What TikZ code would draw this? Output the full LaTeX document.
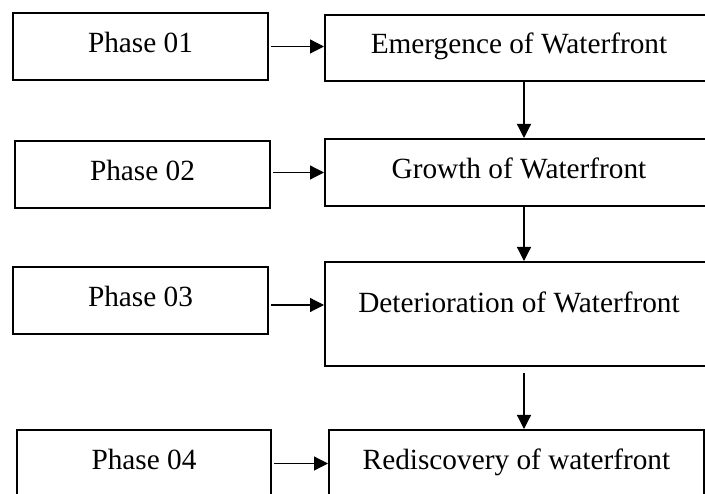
\documentclass[tikz,border=0pt]{standalone}
\usepackage{fontspec}
\setmainfont{Liberation Serif}
\usetikzlibrary{arrows.meta}
\begin{document}
\begin{tikzpicture}[x=1pt,y=-1pt,
  box/.style={draw=black,line width=2pt,rectangle,inner sep=0pt,anchor=north west,
    font=\fontsize{29.3}{34}\selectfont,text height=20pt,text depth=8pt},
  conn/.style={line width=1.2pt,-{Triangle[length=14pt,width=14pt]}}]
\useasboundingbox (0,0) rectangle (705,494);
\clip (0,0) rectangle (705,494);
\fill[white] (0,0) rectangle (705,494);
% left column
\node[box,minimum width=255pt,minimum height=67pt] (p1) at (12,12) {Phase 01};
\node[box,minimum width=255pt,minimum height=67pt] (p2) at (14,140) {Phase 02};
\node[box,minimum width=255pt,minimum height=67pt] (p3) at (12,266) {Phase 03};
\node[box,minimum width=254pt,minimum height=67pt] (p4) at (16,429) {Phase 04};
% right column
\node[box,minimum width=388pt,minimum height=66pt] (e) at (324,14) {Emergence of Waterfront};
\node[box,minimum width=388pt,minimum height=67pt] (g) at (324,138) {Growth of Waterfront};
\node[box,minimum width=388pt,minimum height=104pt,text depth=22pt] (d) at (324,261) {Deterioration of Waterfront};
\node[box,minimum width=375pt,minimum height=67pt] (r) at (328,429) {Rediscovery of waterfront};
% horizontal connectors
\draw[conn,shorten <=2pt] (p1.east) -- (p1.east -| e.west);
\draw[conn,shorten <=2pt] ([yshift=2pt]p2.east) -- ([yshift=2pt]p2.east -| g.west);
\draw[conn,shorten <=2pt] ([yshift=-4.5pt]p3.east) -- ([yshift=-4.5pt]p3.east -| d.west);
\draw[conn,shorten <=2pt] (p4.east) -- (p4.east -| r.west);
% vertical connectors
\draw[conn] ([xshift=5pt]e.south) -- ([xshift=5pt]g.north);
\draw[conn] ([xshift=5pt]g.south) -- ([xshift=5pt]d.north);
\draw[conn,shorten <=6pt] ([xshift=5pt]d.south) -- ([xshift=5pt]d.south |- r.north);
\end{tikzpicture}
\end{document}
